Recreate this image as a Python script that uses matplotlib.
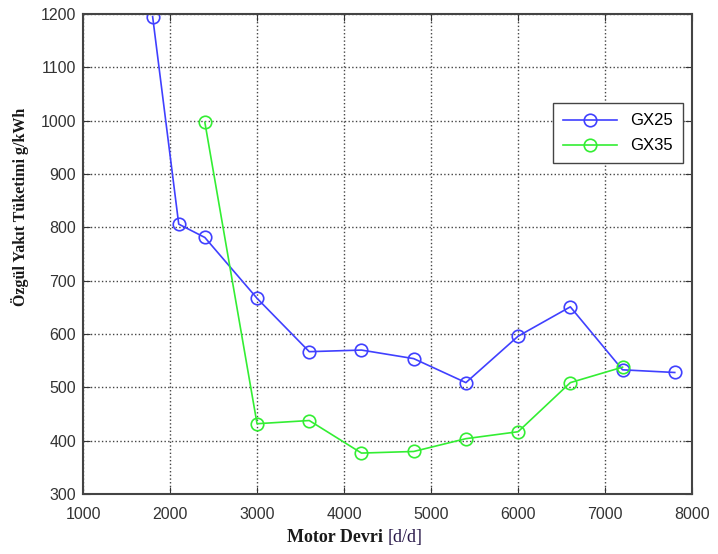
import matplotlib
matplotlib.use('Agg')
import matplotlib.pyplot as plt

# engine speed [d/d] and specific fuel consumption [g/kWh]
gx25_rpm = [1800, 2100, 2400, 3000, 3600, 4200, 4800, 5400, 6000, 6600, 7200, 7800]
gx25_sfc = [1195, 806, 781, 667, 567, 570, 554, 509, 596, 651, 533, 528]

gx35_rpm = [2400, 3000, 3600, 4200, 4800, 5400, 6000, 6600, 7200]
gx35_sfc = [997, 432, 438, 377, 380, 404, 417, 509, 538]

x_ticks = [1000, 2000, 3000, 4000, 5000, 6000, 7000, 8000]
y_ticks = [300, 400, 500, 600, 700, 800, 900, 1000, 1100, 1200]

plt.rcParams['font.family'] = ['Liberation Sans', 'DejaVu Sans']

fig = plt.figure(figsize=(7.18, 5.54), dpi=100)
ax = fig.add_axes([0.1156, 0.108, 0.8484, 0.867])

ax.plot(gx25_rpm, gx25_sfc, color='#4040ff', marker='o', markersize=9,
        markerfacecolor='none', markeredgewidth=1.2, linewidth=1.2, label='GX25')
ax.plot(gx35_rpm, gx35_sfc, color='#33ee33', marker='o', markersize=9,
        markerfacecolor='none', markeredgewidth=1.2, linewidth=1.2, label='GX35')

ax.set_xlim(1000, 8000)
ax.set_ylim(300, 1200)
ax.set_xticks(x_ticks)
ax.set_yticks(y_ticks)
ax.tick_params(direction='in', top=True, right=True, labelsize=11.5, colors='#333333', length=5)
ax.tick_params(axis='x', pad=9)
ax.tick_params(axis='y', pad=5)
ax.grid(True, linestyle=':', color='#444444', linewidth=1.0)
for sp in ax.spines.values():
    sp.set_color('#444444')
    sp.set_linewidth(1.5)

ax.legend(loc='upper right', bbox_to_anchor=(0.998, 0.831), fontsize=12,
          fancybox=False, edgecolor='#444444', framealpha=1, borderpad=0.6,
          handlelength=3.2, labelspacing=0.6)

fig.text(0.028, 0.627, 'Özgül Yakıt Tüketimi g/kWh', rotation=90, ha='center', va='center',
         family='Liberation Serif', fontweight='bold', fontsize=11.5, color='#1a1a1a')
fig.text(0.54, 0.03, 'Motor Devri ', ha='right', va='center',
         family='Liberation Serif', fontweight='bold', fontsize=13, color='#1a1a1a')
fig.text(0.54, 0.03, '[d/d]', ha='left', va='center',
         family='Liberation Serif', fontsize=13, color='#2a1a4a')

fig.savefig('out.png', dpi=100)
